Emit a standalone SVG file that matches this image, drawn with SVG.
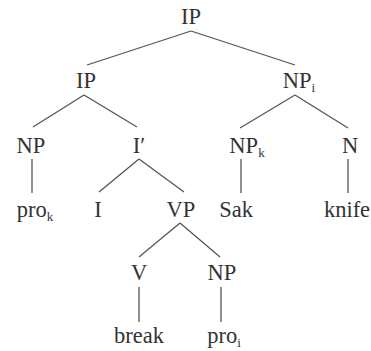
<svg xmlns="http://www.w3.org/2000/svg" width="371" height="351" viewBox="0 0 371 351">
<style>
.lbl{font-family:"Liberation Serif","Times New Roman",serif;font-size:22.5px;fill:#333;text-anchor:middle}
.sub{font-size:13px}
.edges line{stroke:#555;stroke-width:1.3}
</style>
<rect width="371" height="351" fill="#fff"/>
<g id="connectors" class="edges">
<line x1="191" y1="31" x2="87" y2="65"/>
<line x1="191" y1="31" x2="295" y2="65"/>
<line x1="84" y1="95" x2="33" y2="127"/>
<line x1="84" y1="95" x2="137" y2="127"/>
<line x1="295" y1="95" x2="240" y2="128"/>
<line x1="295" y1="95" x2="348" y2="128"/>
<line x1="32" y1="159" x2="32" y2="193"/>
<line x1="139" y1="159" x2="99" y2="192"/>
<line x1="139" y1="159" x2="184" y2="192"/>
<line x1="241" y1="159" x2="241" y2="193"/>
<line x1="348" y1="159" x2="348" y2="193"/>
<line x1="180" y1="223" x2="139" y2="257"/>
<line x1="180" y1="223" x2="220" y2="257"/>
<line x1="139" y1="287" x2="139" y2="322"/>
<line x1="221" y1="287" x2="221" y2="322"/>
</g>
<g id="n-ip-root"><text class="lbl" x="191" y="24">IP</text></g>
<g id="n-ip"><text class="lbl" x="86" y="88">IP</text></g>
<g id="n-npi"><text class="lbl" x="299" y="88">NP<tspan class="sub" dy="4">i</tspan></text></g>
<g id="n-np1"><text class="lbl" x="31" y="153">NP</text></g>
<g id="n-ibar"><text class="lbl" x="139" y="153">I′</text></g>
<g id="n-npk"><text class="lbl" x="247" y="153">NP<tspan class="sub" dy="4">k</tspan></text></g>
<g id="n-n"><text class="lbl" x="350" y="153">N</text></g>
<g id="n-prok"><text class="lbl" x="35" y="217">pro<tspan class="sub" dy="4">k</tspan></text></g>
<g id="n-i"><text class="lbl" x="98" y="217">I</text></g>
<g id="n-vp"><text class="lbl" x="181" y="217">VP</text></g>
<g id="n-sak"><text class="lbl" x="236" y="217">Sak</text></g>
<g id="n-knife"><text class="lbl" x="347" y="217">knife</text></g>
<g id="n-v"><text class="lbl" x="139" y="280">V</text></g>
<g id="n-np2"><text class="lbl" x="222" y="280">NP</text></g>
<g id="n-break"><text class="lbl" x="139" y="343">break</text></g>
<g id="n-proi"><text class="lbl" x="224" y="343">pro<tspan class="sub" dy="4">i</tspan></text></g>
</svg>
